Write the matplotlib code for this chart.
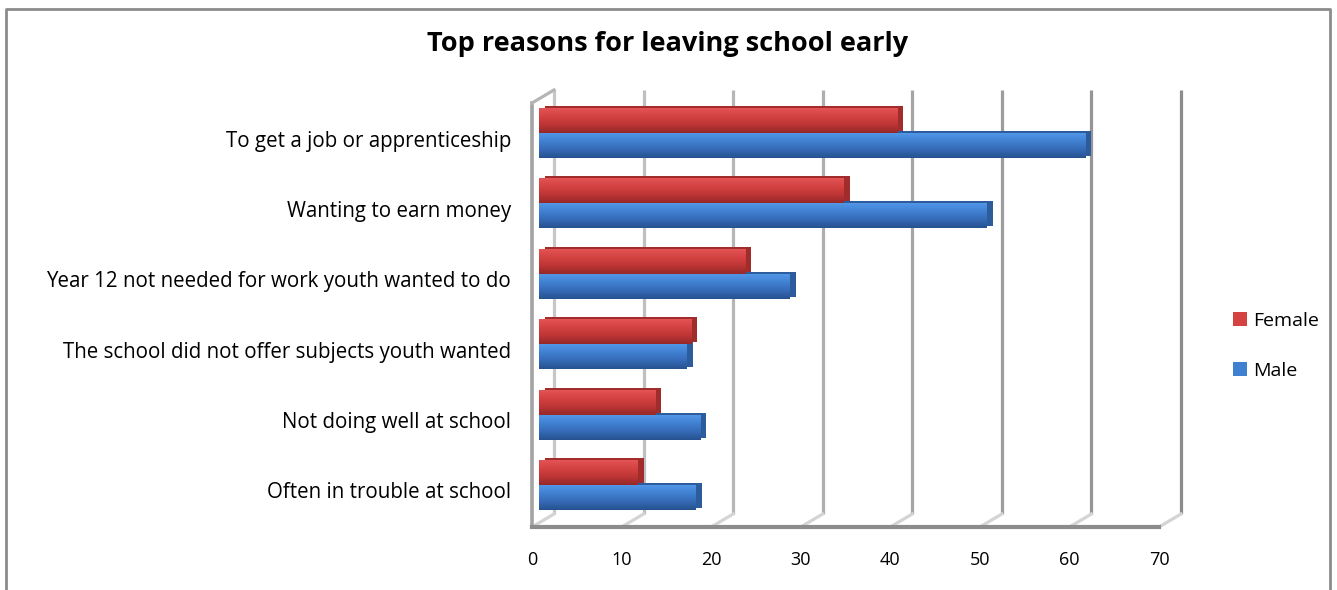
import numpy as np
import matplotlib
matplotlib.use("Agg")
import matplotlib.pyplot as plt
import matplotlib.transforms as mtransforms
from matplotlib.lines import Line2D
from matplotlib.colors import LinearSegmentedColormap

categories = ["To get a job or apprenticeship",
              "Wanting to earn money",
              "Year 12 not needed for work youth wanted to do",
              "The school did not offer subjects youth wanted",
              "Not doing well at school",
              "Often in trouble at school"]
female = [40, 34, 23, 17, 13, 11]
male = [61, 50, 28, 16.5, 18, 17.5]
xticks = [0, 10, 20, 30, 40, 50, 60, 70]
series = ["Female", "Male"]
title = "Top reasons for leaving school early"

plt.rcParams['font.family'] = ['Open Sans', 'DejaVu Sans']

W, H = 1337, 590
fig = plt.figure(figsize=(W / 100, H / 100), dpi=100)

# plane in which the bars sit (pixels)
left, right, top, bottom = 539, 1166, 99, 523
ax = fig.add_axes([left / W, 1 - bottom / H, (right - left) / W, (bottom - top) / H])
ax.axis('off')
ymin, ymax = -0.483, 5.54
xmax = xticks[-1]


def shift(dx, dy):
    """data transform moved by dx px right and dy px down"""
    return ax.transData + mtransforms.ScaledTranslation(dx / 100, -dy / 100, fig.dpi_scale_trans)


ident = mtransforms.IdentityTransform()


def to_px(x, y, dx, dy):
    p = ax.transData.transform((x, y))
    return p[0] + dx, p[1] - dy


def seg(p0, p1, **kw):
    fig.add_artist(Line2D([p0[0], p1[0]], [p0[1], p1[1]], transform=ident, **kw))


ax.set_xlim(0, xmax)
ax.set_ylim(ymax, ymin)

# back wall gridlines and floor diagonals
back = shift(15, -9)
greys = np.linspace(0.78, 0.55, len(xticks))
for v, g in zip(xticks, greys):
    col = (g, g, g)
    ax.plot([v, v], [ymin, ymax], transform=back, color=col, lw=2.3,
            zorder=1, clip_on=False, solid_capstyle='butt')
    seg(to_px(v, ymax, -7, 4), to_px(v, ymax, 15, -9), color=(0.83, 0.83, 0.83), lw=2.3, zorder=1)

# left wall front edge + top, floor front edge
seg(to_px(0, ymin, -7, 4), to_px(0, ymax, -7, 4), color='#a3a3a3', lw=2.6, zorder=1)
seg(to_px(0, ymin, -7, 4), to_px(0, ymin, 15, -9), color='#b5b5b5', lw=2.3, zorder=1)
seg(to_px(0, ymax, -7, 4), to_px(xmax, ymax, -7, 4), color='#8c8c8c', lw=3, zorder=1)

# bars
h = 0.355
yc = np.arange(len(categories))
specs = [
    (female, yc - h / 2, ['#e45454', '#d44242', '#bd3535', '#962828'], '#a02c2c'),
    (male, yc + h / 2, ['#5296e8', '#4080d0', '#356ab6', '#26528f'], '#2d5c9c'),
]
containers = []
# depth / end cap, drawn first so the front faces sit over it
for vals, ys, cols, dark in specs:
    ax.barh(ys, vals, height=h, color=dark, transform=shift(6, -2), zorder=2)
for vals, ys, cols, dark in specs:
    bc = ax.barh(ys, vals, height=h, color=cols[1], zorder=3)
    containers.append(bc)
    cmap = LinearSegmentedColormap.from_list('g', cols)
    grad = np.linspace(0, 1, 64).reshape(-1, 1)
    for patch, v, y in zip(bc.patches, vals, ys):
        im = ax.imshow(grad, cmap=cmap, extent=(0, v, y + h / 2, y - h / 2),
                       origin='upper', aspect='auto', zorder=3.5, interpolation='bilinear')
        im.set_clip_path(patch)

ax.set_xlim(0, xmax)
ax.set_ylim(ymax, ymin)

# category labels
for y, lab in zip(yc, categories):
    ax.text(0, y, lab, transform=shift(-28, 8), ha='right', va='center',
            fontsize=14.8, color='black')

# value axis labels (front edge)
for v in xticks:
    ax.text(v, ymax, str(v), transform=shift(-7, 37), ha='center', va='center',
            fontsize=13, color='black')

fig.text(668 / W, 1 - 44 / H, title, ha='center', va='center',
         fontsize=19.5, fontweight='bold')

leg = fig.legend(containers, series, loc='center left',
                 bbox_to_anchor=(1215 / W, 1 - 346 / H), frameon=False,
                 fontsize=14, handlelength=0.75, handleheight=0.7,
                 handletextpad=0.3, labelspacing=1.65)

# chart frame
fig.add_artist(Line2D([6, 6, 1330, 1330], [0, H - 9, H - 9, 0], transform=ident,
                      color='#8c8c8c', lw=2))

fig.savefig('out.png', dpi=100)
